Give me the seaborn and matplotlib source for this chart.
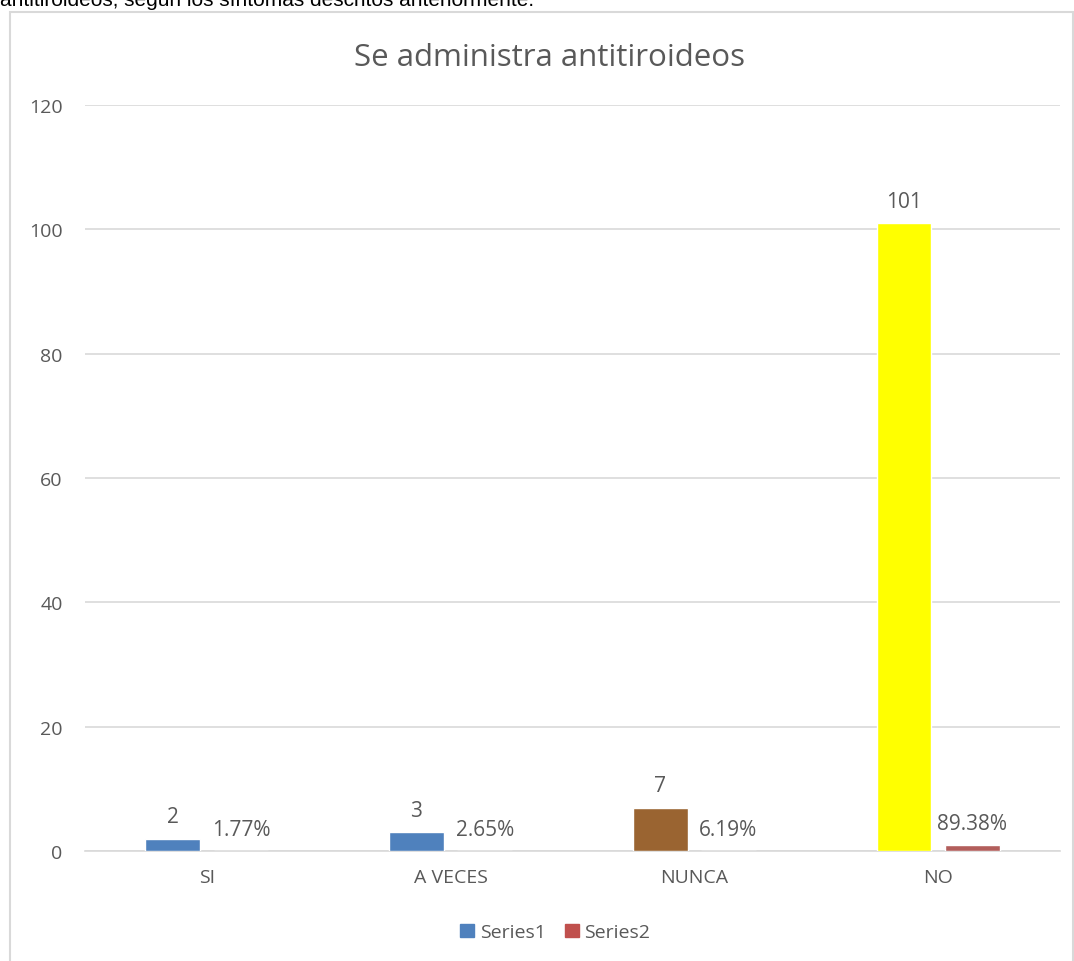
import matplotlib
matplotlib.use("Agg")
import matplotlib.pyplot as plt
from matplotlib.patches import Patch, Rectangle
import pandas as pd
import seaborn as sns

# ------------------------------------------------------
# data
# ------------------------------------------------------
categorias = ["SI", "A VECES", "NUNCA", "NO"]
series1 = [2, 3, 7, 101]                       # frecuencia
series2 = [0.0177, 0.0265, 0.0619, 0.8938]     # porcentaje (fraccion)
colores_s1 = ["#4F81BD", "#4F81BD", "#9A6431", "#FFFF00"]
color_s2 = "#C0504D"
texto = "#595959"

df = pd.DataFrame({
    "categoria": categorias * 2,
    "serie": ["Series1"] * 4 + ["Series2"] * 4,
    "valor": series1 + series2,
})

sns.set_theme(style="white")
plt.rcParams["font.family"] = ["Open Sans", "DejaVu Sans"]

fig = plt.figure(figsize=(10.74, 9.62), dpi=100)
ax = fig.add_axes([0.079, 0.1143, 0.908, 0.7755])

sns.barplot(data=df, x="categoria", y="valor", hue="serie", order=categorias,
            hue_order=["Series1", "Series2"],
            palette={"Series1": "#4F81BD", "Series2": color_s2},
            width=0.56, gap=0.2, legend=False, ax=ax, zorder=3)

# recolor Series1 bars per category
barras1 = ax.containers[0]
barras2 = ax.containers[1]
for p, c in zip(barras1, colores_s1):
    p.set_facecolor(c)

ax.bar_label(barras1, labels=[str(v) for v in series1], padding=8,
             color=texto, fontsize=15)
ax.bar_label(barras2, labels=[f"{v:.2%}" for v in series2], padding=8,
             color=texto, fontsize=15)

ax.set_ylim(0, 120)
ax.set_yticks(range(0, 121, 20))
ax.yaxis.grid(True, color="#D9D9D9", linewidth=1.2, zorder=0)
ax.set_axisbelow(True)
for s in ["top", "right", "left"]:
    ax.spines[s].set_visible(False)
ax.spines["bottom"].set_color("#D9D9D9")
ax.spines["bottom"].set_linewidth(1.2)
ax.tick_params(axis="both", length=0, labelsize=14, labelcolor=texto)
ax.tick_params(axis="x", pad=12)
ax.tick_params(axis="y", pad=16)
ax.set_xlabel("")
ax.set_ylabel("")

fig.text(0.512, 0.940, "Se administra antitiroideos", ha="center", va="center",
         fontsize=22.5, color=texto)

handles = [Patch(color="#4F81BD", label="Series1"), Patch(color=color_s2, label="Series2")]
fig.legend(handles=handles, loc="center", bbox_to_anchor=(0.517, 0.030), ncol=2,
           frameon=False, fontsize=14, handlelength=0.7, handleheight=0.7,
           handletextpad=0.3, columnspacing=1.0, labelcolor=texto)

# chart border and the cut-off caption above it
fig.patches.append(Rectangle((0.0095, -0.01), 0.99, 0.997, transform=fig.transFigure,
                             fill=False, edgecolor="#D9D9D9", linewidth=1.5))
fig.text(0.0, 0.9935, "antitiroideos, según los síntomas descritos anteriormente.",
         ha="left", va="baseline", fontsize=15, color="black",
         family=["Liberation Sans", "DejaVu Sans"])

fig.savefig("out.png", dpi=100, facecolor="white")
plt.close()
